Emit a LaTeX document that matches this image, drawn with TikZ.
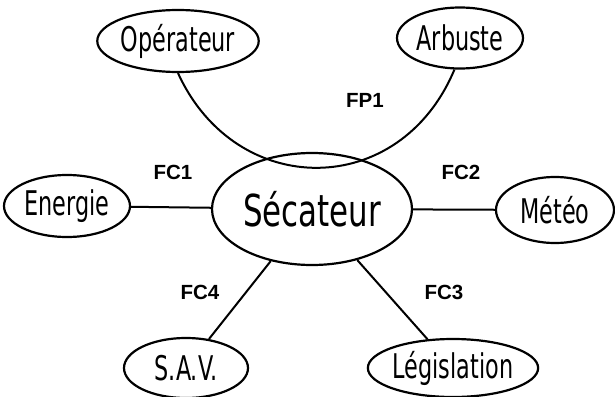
\documentclass[tikz,border=0pt]{standalone}
\usepackage{fontspec}
\usepackage{graphicx}
\setmainfont{DejaVu Sans Condensed}
\newfontfamily\lblfont{Liberation Sans}
\usetikzlibrary{shapes.geometric}
\newcommand{\narrowtxt}[1]{\scalebox{0.73}[1]{#1}}
\newcommand{\bignarrowtxt}[1]{\scalebox{0.78}[1]{#1}}
\begin{document}
\begin{tikzpicture}[x=1pt,y=-1pt,
  ell/.style={ellipse,draw,line width=2.2pt,inner sep=0pt,font=\fontsize{34}{34}\selectfont},
  bigell/.style={ell,font=\fontsize{44}{44}\selectfont},
  conn/.style={line width=2pt},
  lbl/.style={font=\lblfont\bfseries\fontsize{20.5}{20.5}\selectfont}]
\useasboundingbox (0,0) rectangle (615,396);
\node[bigell,minimum width=200pt,minimum height=112pt] (sec) at (312,209) {\bignarrowtxt{Sécateur}};
\node[ell,minimum width=124pt,minimum height=62pt] (ope) at (178,41) {\narrowtxt{Opérateur}};
\node[ell,minimum width=126pt,minimum height=61pt] (arb) at (460,38) {\narrowtxt{Arbuste}};
\node[ell,minimum width=126pt,minimum height=62pt] (ene) at (67,206) {\narrowtxt{Energie}};
\node[ell,minimum width=118pt,minimum height=66pt] (met) at (555,210) {\narrowtxt{Météo}};
\node[ell,minimum width=124pt,minimum height=60pt] (sav) at (186,368) {\narrowtxt{S.A.V.}};
\node[ell,minimum width=124pt,minimum height=58pt] (leg) at (453,368) {\narrowtxt{Législation}};
\draw[conn] (ope.south) .. controls (236,200) and (400,200) .. (arb.-100);
\draw[conn] (sec) -- (ene);
\draw[conn] (sec) -- (met);
\draw[conn] (sec) -- (sav);
\draw[conn] (sec) -- (leg);
\node[lbl] (fp1) at (365,100) {FP1};
\node[lbl] (fc1) at (173,172) {FC1};
\node[lbl] (fc2) at (461,172) {FC2};
\node[lbl] (fc4) at (200,292) {FC4};
\node[lbl] (fc3) at (444,292) {FC3};
\end{tikzpicture}
\end{document}
